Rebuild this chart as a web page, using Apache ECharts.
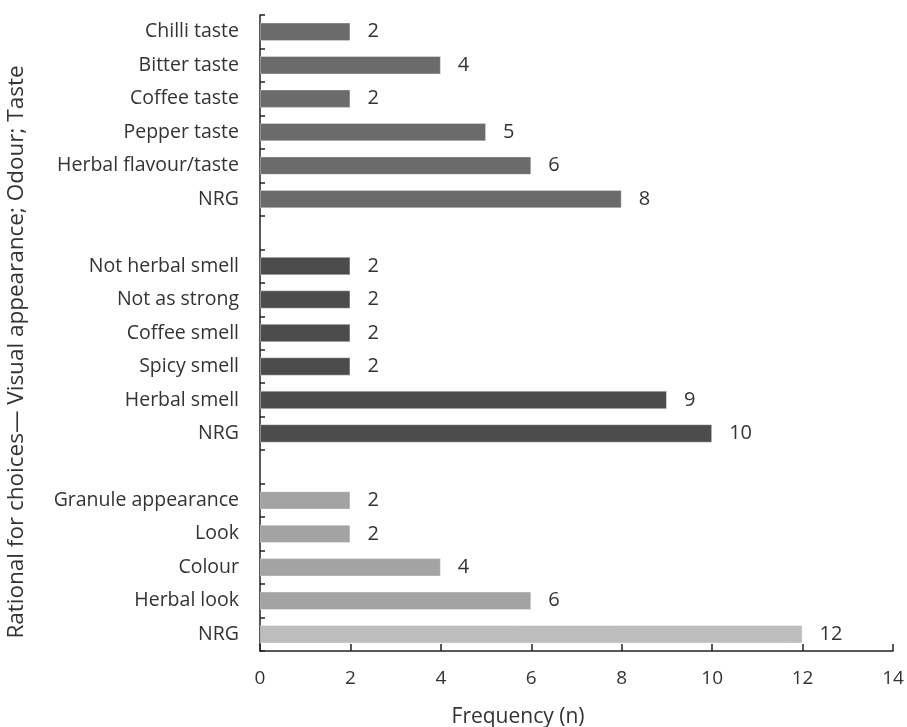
<!DOCTYPE html>
<html>
<head>
<meta charset="utf-8">
<script src="https://cdn.jsdelivr.net/npm/echarts@6/dist/echarts.min.js"></script>
<style>html,body{margin:0;padding:0;background:#fff}#c{width:907px;height:727px}</style>
</head>
<body>
<div id="c"></div>
<script>
const categories = ['Chilli taste','Bitter taste','Coffee taste','Pepper taste','Herbal flavour/taste','NRG','',
  'Not herbal smell','Not as strong','Coffee smell','Spicy smell','Herbal smell','NRG ','',
  'Granule appearance','Look','Colour','Herbal look','NRG  '];
const values = [2,4,2,5,6,8,null,2,2,2,2,9,10,null,2,2,4,6,12];
const groups = ['taste','taste','taste','taste','taste','taste',null,
  'odour','odour','odour','odour','odour','odour',null,
  'visual','visual','visual','visual','visualNRG'];
const xTicks = [0,2,4,6,8,10,12,14];
const yTitle = 'Rational for choices— Visual appearance; Odour; Taste';
const xTitle = 'Frequency (n)';

const colors = {taste:'#6b6b6b', odour:'#4c4c4c', visual:'#a3a3a3', visualNRG:'#bdbdbd'};
const FONT = 'Open Sans';

const chart = echarts.init(document.getElementById('c'));
chart.setOption({
  animation:false,
  backgroundColor:'#fff',
  grid:{left:260,right:14,top:15,bottom:76,containLabel:false},
  xAxis:{type:'value',min:xTicks[0],max:xTicks[xTicks.length-1],interval:2,
    axisLine:{show:true,lineStyle:{color:'#222',width:1.5}},
    axisTick:{show:true,inside:true,length:7,lineStyle:{color:'#222',width:1.5}},
    splitLine:{show:false},
    axisLabel:{color:'#333',fontFamily:FONT,fontSize:19,margin:18}},
  yAxis:{type:'category',inverse:true,data:categories,
    axisLine:{show:true,lineStyle:{color:'#222',width:1.5}},
    axisTick:{show:true,inside:true,length:5,lineStyle:{color:'#222',width:1.5}},
    axisLabel:{color:'#333',fontFamily:FONT,fontSize:19.5,margin:21,formatter:v=>v.trim()}},
  series:[{type:'bar',barCategoryGap:'45%',
    data:values.map((v,i)=>v==null?null:{value:v,itemStyle:{color:colors[groups[i]],borderColor:'rgba(255,255,255,0.35)',borderWidth:1}}),
    label:{show:true,position:'right',distance:17,color:'#333',fontFamily:FONT,fontSize:20}}],
  graphic:[
    {type:'text',x:17,y:352,rotation:Math.PI/2,
      style:{text:yTitle,fontFamily:FONT,fontSize:22.5,fill:'#333',textAlign:'center',textVerticalAlign:'middle'}},
    {type:'text',x:518,y:717,
      style:{text:xTitle,fontFamily:FONT,fontSize:21,fill:'#333',textAlign:'center',textVerticalAlign:'middle'}}
  ]
});
</script>
</body>
</html>
